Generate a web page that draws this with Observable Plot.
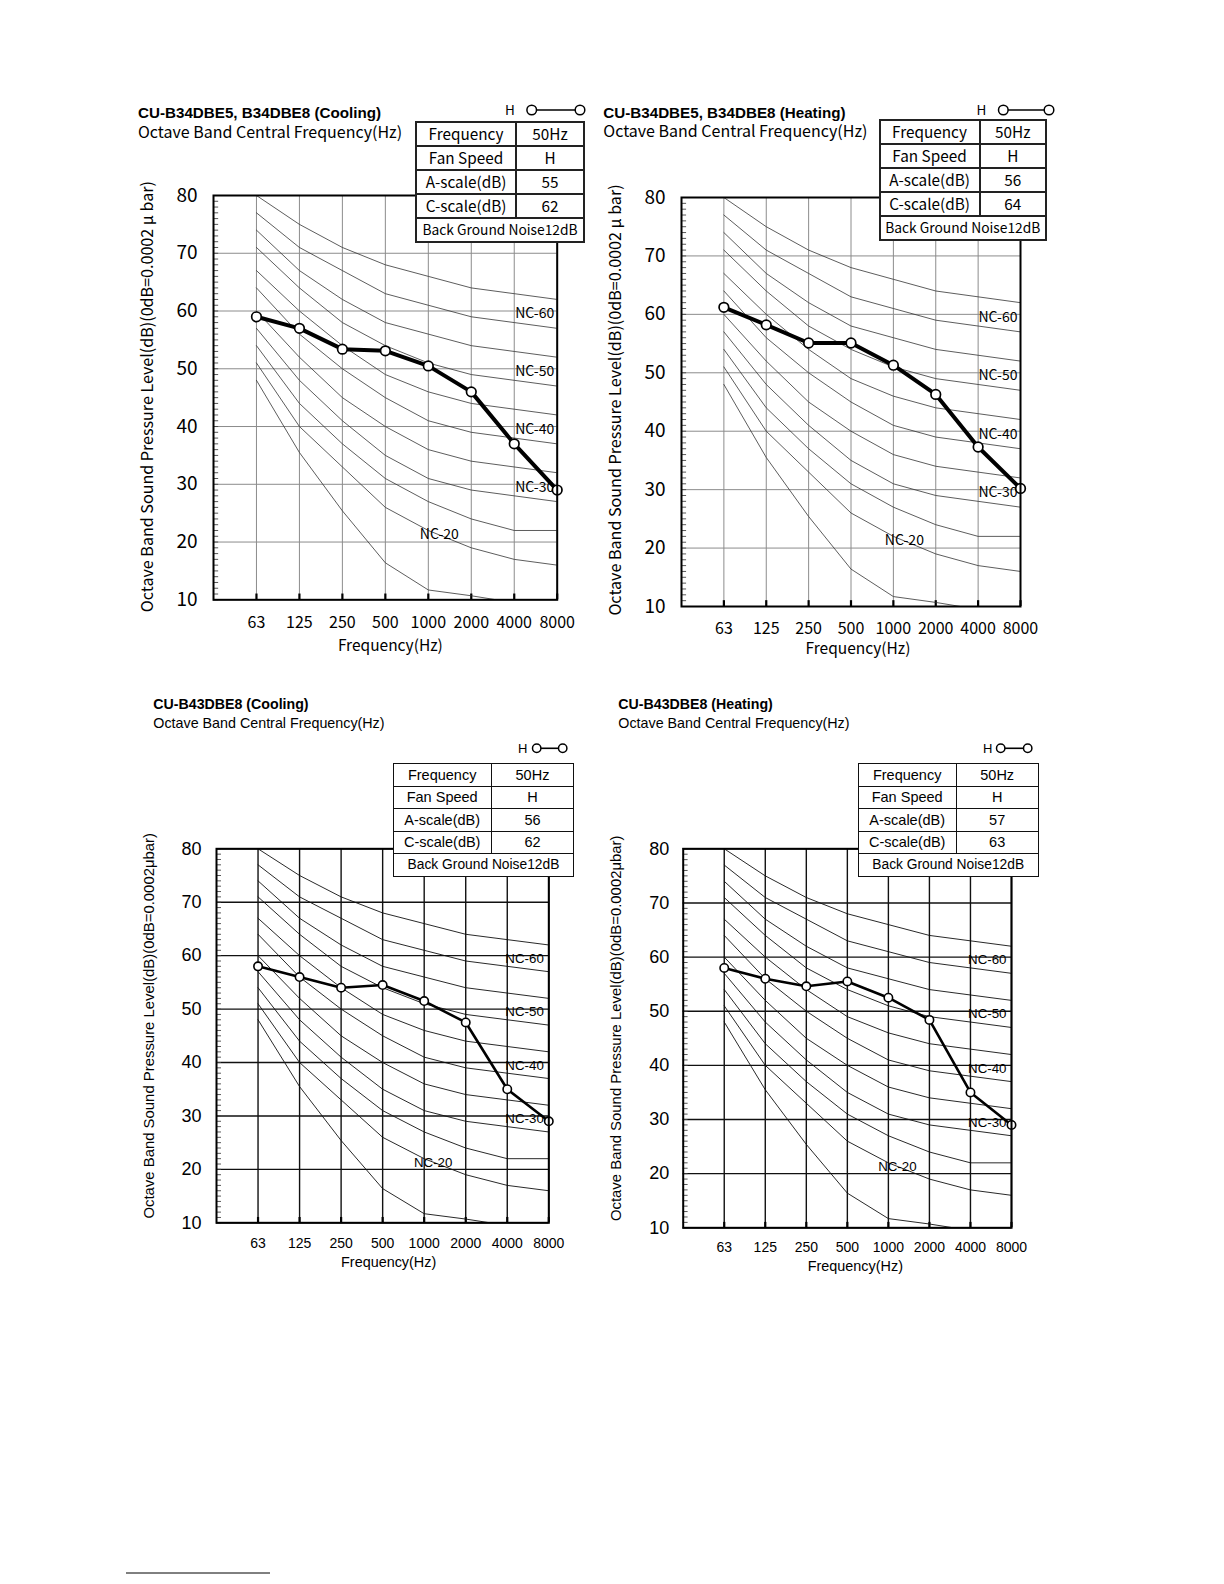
<!DOCTYPE html>
<html><head><meta charset="utf-8">
<script src="https://cdn.jsdelivr.net/npm/d3@7"></script>
<script src="https://cdn.jsdelivr.net/npm/@observablehq/plot@0.6"></script>
<style>
html,body{margin:0;padding:0;background:#fff;}
#page{position:relative;width:1224px;height:1584px;overflow:hidden;background:#fff;}
table.spec{position:absolute;border-collapse:collapse;background:#fff;z-index:5;table-layout:fixed;}
table.spec td{text-align:center;padding:0;white-space:nowrap;color:#000;box-sizing:border-box;line-height:1;}
</style></head><body><div id="page"></div>
<script>
// ---------------- data ----------------
const freqLabels = ["63","125","250","500","1000","2000","4000","8000"];
const yTicks = [10,20,30,40,50,60,70,80];
const minorTicks = d3.range(10, 81, 1);

const titles = ["CU-B34DBE5, B34DBE8 (Cooling)","CU-B34DBE5, B34DBE8 (Heating)","CU-B43DBE8 (Cooling)","CU-B43DBE8 (Heating)"];
const subtitle = "Octave Band Central Frequency(Hz)";
const xAxisTitle = "Frequency(Hz)";
const yAxisTitleA = "Octave Band Sound Pressure Level(dB)(0dB=0.0002 \u03bc bar)";
const yAxisTitleB = "Octave Band Sound Pressure Level(dB)(0dB=0.0002\u03bcbar)";
const legendLabel = "H";

const specLabels = ["Frequency","Fan Speed","A-scale(dB)","C-scale(dB)"];
const specCooling34 = ["50Hz","H","55","62"];
const specHeating34 = ["50Hz","H","56","64"];
const specCooling43 = ["50Hz","H","56","62"];
const specHeating43 = ["50Hz","H","57","63"];
const noiseNote = "Back Ground Noise12dB";

const levelCooling34 = [59, 57, 53.4, 53.1, 50.5, 46, 37, 29];
const levelHeating34 = [61.2, 58.2, 55.1, 55.1, 51.3, 46.3, 37.3, 30.2];
const levelCooling43 = [58, 56, 54, 54.5, 51.5, 47.5, 35, 29];
const levelHeating43 = [58, 56, 54.6, 55.5, 52.5, 48.4, 35, 29];

const nc65 = [80, 75, 71, 68, 66, 64, 63, 62];
const nc60 = [77, 71, 67, 63, 61, 59, 58, 57];
const nc55 = [74, 67, 62, 58, 56, 54, 53, 52];
const nc50 = [71, 64, 58, 54, 51, 49, 48, 47];
const nc45 = [67, 60, 54, 49, 46, 44, 43, 42];
const nc40 = [64, 56, 50, 45, 41, 39, 38, 37];
const nc35 = [60, 52, 45, 40, 36, 34, 33, 32];
const nc30 = [57, 48, 41, 35, 31, 29, 28, 27];
const nc25 = [54, 44, 37, 31, 27, 24, 22, 22];
const nc20 = [51, 40, 33, 26, 22, 19, 17, 16];
const nc15 = [48, 35.5, 25.4, 16.4, 11.7, 10.7, 9.5, 8.5];
const ncLevels = [65, 60, 55, 50, 45, 40, 35, 30, 25, 20, 15];
const ncCurves = [nc65, nc60, nc55, nc50, nc45, nc40, nc35, nc30, nc25, nc20, nc15];

const ncLabelNames = ["NC-60","NC-50","NC-40","NC-30","NC-20"];
const ncLabelLevels = [60, 50, 40, 30, 20];
const ncLabelBands = ["8000","8000","8000","8000","1000"];

// ---------------- styles / layout ----------------
const gothic = '"Noto Sans CJK JP","Noto Sans",sans-serif';
const arial = '"Liberation Sans",Arial,Helvetica,sans-serif';

const styleA = {font: gothic, grid: "#8c8c8c", gridW: 1, nc: "#333", ncW: 0.8, lineW: 4, dotR: 4.8, dotW: 1.7,
  xFont: 16, yFont: 19, labFont: 15.5, yLabFont: 16.1, ncFont: 14, frameW: 2, tableFont: 15.3, noteFont: 13.8, bw: 2, tableBorder: "2px solid #222",
  titleSize: 15.2, subSize: 16, subFont: gothic, legFont: 13.5, legR: 4.8};
const styleB = {font: arial, grid: "#111", gridW: 1.4, nc: "#111", ncW: 0.9, lineW: 2.6, dotR: 4.2, dotW: 1.6,
  xFont: 14, yFont: 18, labFont: 14.4, yLabFont: 14.9, ncFont: 13.3, frameW: 2, tableFont: 14.5, noteFont: 13.8, bw: 1.5, tableBorder: "1.5px solid #111",
  titleSize: 14.2, subSize: 14.3, subFont: arial, legFont: 13, legR: 4.2};

const panels = [
  {title: titles[0], spec: specCooling34, levels: levelCooling34, yTitle: yAxisTitleA, S: styleA,
   svg: {left: 120, top: 170, width: 450, height: 500, ml: 93, mr: 13.3, mt: 25, mb: 70.7},
   xPad: 17, yPad: 16, xLab: {dx: 5, dy: 46}, yLab: {dx: -65.5, dy: -1},
   ncRight: {dx: -3, dy: 3}, ncMid: {dx: 11, dy: -8},
   titlePos: {x: 138, y: 117.7}, subPos: {x: 138, y: 137.7},
   leg: {hx: 505, y: 110, c1: 531.7, c2: 580},
   table: {left: 415, top: 121, c1: 100, c2: 68, rowH: 24}},
  {title: titles[1], spec: specHeating34, levels: levelHeating34, yTitle: yAxisTitleA, S: styleA,
   svg: {left: 588, top: 172, width: 450, height: 500, ml: 93, mr: 18, mt: 25, mb: 66},
   xPad: 16, yPad: 16, xLab: {dx: 7, dy: 43}, yLab: {dx: -66, dy: -2},
   ncRight: {dx: -3, dy: 3}, ncMid: {dx: 11, dy: -8},
   titlePos: {x: 603.3, y: 117.7}, subPos: {x: 603.3, y: 137.3},
   leg: {hx: 976.5, y: 110, c1: 1003.3, c2: 1049},
   table: {left: 878.5, top: 119, c1: 100, c2: 66.5, rowH: 24}},
  {title: titles[2], spec: specCooling43, levels: levelCooling43, yTitle: yAxisTitleB, S: styleB,
   svg: {left: 120, top: 820, width: 445, height: 470, ml: 96, mr: 16.7, mt: 28.3, mb: 67.7},
   xPad: 15, yPad: 15, xLab: {dx: 6, dy: 40}, yLab: {dx: -67.5, dy: -10},
   ncRight: {dx: -5, dy: 3}, ncMid: {dx: 9, dy: -7},
   titlePos: {x: 153.3, y: 709.3}, subPos: {x: 153.3, y: 728.3},
   leg: {hx: 518, y: 748.3, c1: 536.7, c2: 562.7},
   table: {left: 392.7, top: 763.3, c1: 98, c2: 82.6, rowH: 22.5}},
  {title: titles[3], spec: specHeating43, levels: levelHeating43, yTitle: yAxisTitleB, S: styleB,
   svg: {left: 590, top: 820, width: 440, height: 470, ml: 92.7, mr: 19, mt: 28.3, mb: 62.7},
   xPad: 14, yPad: 14, xLab: {dx: 8, dy: 39}, yLab: {dx: -67, dy: -10},
   ncRight: {dx: -5, dy: 3}, ncMid: {dx: 9, dy: -7},
   titlePos: {x: 618.3, y: 709.3}, subPos: {x: 618.3, y: 728.3},
   leg: {hx: 983, y: 748.3, c1: 1000.7, c2: 1027.7},
   table: {left: 857.7, top: 763.3, c1: 98, c2: 82, rowH: 22.5}}
];

const page = document.getElementById("page");

function drawPlot(p) {
  const S = p.S;
  const xi = freqLabels.map((_, i) => i + 1);
  const x0 = 0, y0 = yTicks[0];
  const ncRows = ncLevels.flatMap((lv, k) => ncCurves[k].map((v, i) => ({lv, x: i + 1, y: v})));
  const pts = p.levels.map((v, i) => ({x: i + 1, y: v}));
  const labelRows = ncLabelNames.map((name, k) => ({name, lv: ncLabelLevels[k], band: ncLabelBands[k], x: freqLabels.indexOf(ncLabelBands[k]) + 1}));
  const rightLabels = labelRows.filter(d => d.band === freqLabels[freqLabels.length - 1]);
  const midLabels = labelRows.filter(d => d.band !== freqLabels[freqLabels.length - 1]);
  const svg = Plot.plot({
    width: p.svg.width, height: p.svg.height,
    marginLeft: p.svg.ml, marginRight: p.svg.mr, marginTop: p.svg.mt, marginBottom: p.svg.mb,
    style: {fontFamily: S.font, color: "#000", background: "transparent", maxWidth: "none", overflow: "visible"},
    x: {domain: [x0, freqLabels.length]},
    y: {domain: [y0, yTicks[yTicks.length - 1]]},
    marks: [
      Plot.ruleX(xi, {stroke: S.grid, strokeWidth: S.gridW}),
      Plot.ruleY(yTicks, {stroke: S.grid, strokeWidth: S.gridW}),
      Plot.ruleY(minorTicks, {y: d => d, x1: x0, x2: x0 + 0.12, stroke: "#444", strokeWidth: 0.9}),
      Plot.ruleX(xi, {x: d => d, y1: y0, y2: y0 + 1, stroke: "#000", strokeWidth: 2.2}),
      Plot.line(ncRows, {x: "x", y: "y", z: "lv", stroke: S.nc, strokeWidth: S.ncW, clip: true}),
      Plot.text(rightLabels, {x: "x", y: "lv", text: "name", textAnchor: "end", dx: p.ncRight.dx, dy: p.ncRight.dy, fontSize: S.ncFont, fill: "#000"}),
      Plot.text(midLabels, {x: "x", y: "lv", text: "name", textAnchor: "middle", dx: p.ncMid.dx, dy: p.ncMid.dy, fontSize: S.ncFont, fill: "#000"}),
      Plot.line(pts, {x: "x", y: "y", stroke: "#000", strokeWidth: S.lineW, strokeLinejoin: "round"}),
      Plot.dot(pts, {x: "x", y: "y", r: S.dotR, fill: "#fff", stroke: "#000", strokeWidth: S.dotW}),
      Plot.frame({stroke: "#000", strokeWidth: S.frameW}),
      Plot.axisX(xi, {tickSize: 0, tickPadding: p.xPad, tickFormat: i => freqLabels[i - 1], fontSize: S.xFont, label: null}),
      Plot.axisY(yTicks, {tickSize: 0, tickPadding: p.yPad, fontSize: S.yFont, label: null}),
      Plot.text([xAxisTitle], {text: d => d, frameAnchor: "bottom", textAnchor: "middle", lineAnchor: "middle", dx: p.xLab.dx, dy: p.xLab.dy, fontSize: S.labFont, fill: "#000"}),
      Plot.text([p.yTitle], {text: d => d, frameAnchor: "left", textAnchor: "middle", lineAnchor: "middle", rotate: -90, dx: p.yLab.dx, dy: p.yLab.dy, fontSize: S.yLabFont, fill: "#000"})
    ]
  });
  svg.style.position = "absolute";
  svg.style.left = p.svg.left + "px";
  svg.style.top = p.svg.top + "px";
  page.appendChild(svg);
}

function drawTable(p) {
  const S = p.S, T = p.table;
  const t = document.createElement("table");
  t.className = "spec";
  t.style.left = T.left + "px";
  t.style.top = T.top + "px";
  t.style.width = (T.c1 + T.c2) + "px";
  t.style.fontFamily = S.font;
  t.style.fontSize = S.tableFont + "px";
  const cg = document.createElement("colgroup");
  [T.c1, T.c2].forEach(w => { const c = document.createElement("col"); c.style.width = w + "px"; cg.appendChild(c); });
  t.appendChild(cg);
  const tb = document.createElement("tbody");
  const cellH = T.rowH + "px";
  specLabels.forEach((lab, i) => {
    const tr = document.createElement("tr");
    [lab, p.spec[i]].forEach(txt => {
      const td = document.createElement("td");
      td.textContent = txt; td.style.border = S.tableBorder; td.style.height = cellH;
      tr.appendChild(td);
    });
    tb.appendChild(tr);
  });
  const tr = document.createElement("tr");
  const td = document.createElement("td");
  td.colSpan = 2; td.textContent = noiseNote; td.style.border = S.tableBorder; td.style.height = cellH;
  td.style.fontSize = S.noteFont + "px";
  tr.appendChild(td); tb.appendChild(tr);
  t.appendChild(tb);
  page.appendChild(t);
}

const overlay = d3.select("#page").append("svg")
  .attr("width", 1224).attr("height", 1584)
  .style("position", "absolute").style("left", "0px").style("top", "0px")
  .style("z-index", 6).style("pointer-events", "none");

function drawHeader(p) {
  const S = p.S;
  overlay.append("text").attr("x", p.titlePos.x).attr("y", p.titlePos.y)
    .attr("font-family", arial).attr("font-weight", "bold").attr("font-size", S.titleSize).text(p.title);
  overlay.append("text").attr("x", p.subPos.x).attr("y", p.subPos.y)
    .attr("font-family", S.subFont).attr("font-size", S.subSize).text(subtitle);
  const L = p.leg;
  overlay.append("text").attr("x", L.hx).attr("y", L.y).attr("dy", "0.36em")
    .attr("font-family", S.font).attr("font-size", S.legFont).text(legendLabel);
  overlay.append("line").attr("x1", L.c1).attr("x2", L.c2).attr("y1", L.y).attr("y2", L.y)
    .attr("stroke", "#000").attr("stroke-width", 1.6);
  [L.c1, L.c2].forEach(cx => overlay.append("circle").attr("cx", cx).attr("cy", L.y).attr("r", S.legR)
    .attr("fill", "#fff").attr("stroke", "#000").attr("stroke-width", 1.5));
}

panels.forEach(p => { drawPlot(p); drawTable(p); drawHeader(p); });

// footnote separator
overlay.append("line").attr("x1", 126).attr("x2", 270).attr("y1", 1573).attr("y2", 1573)
  .attr("stroke", "#000").attr("stroke-width", 1);
</script></body></html>
